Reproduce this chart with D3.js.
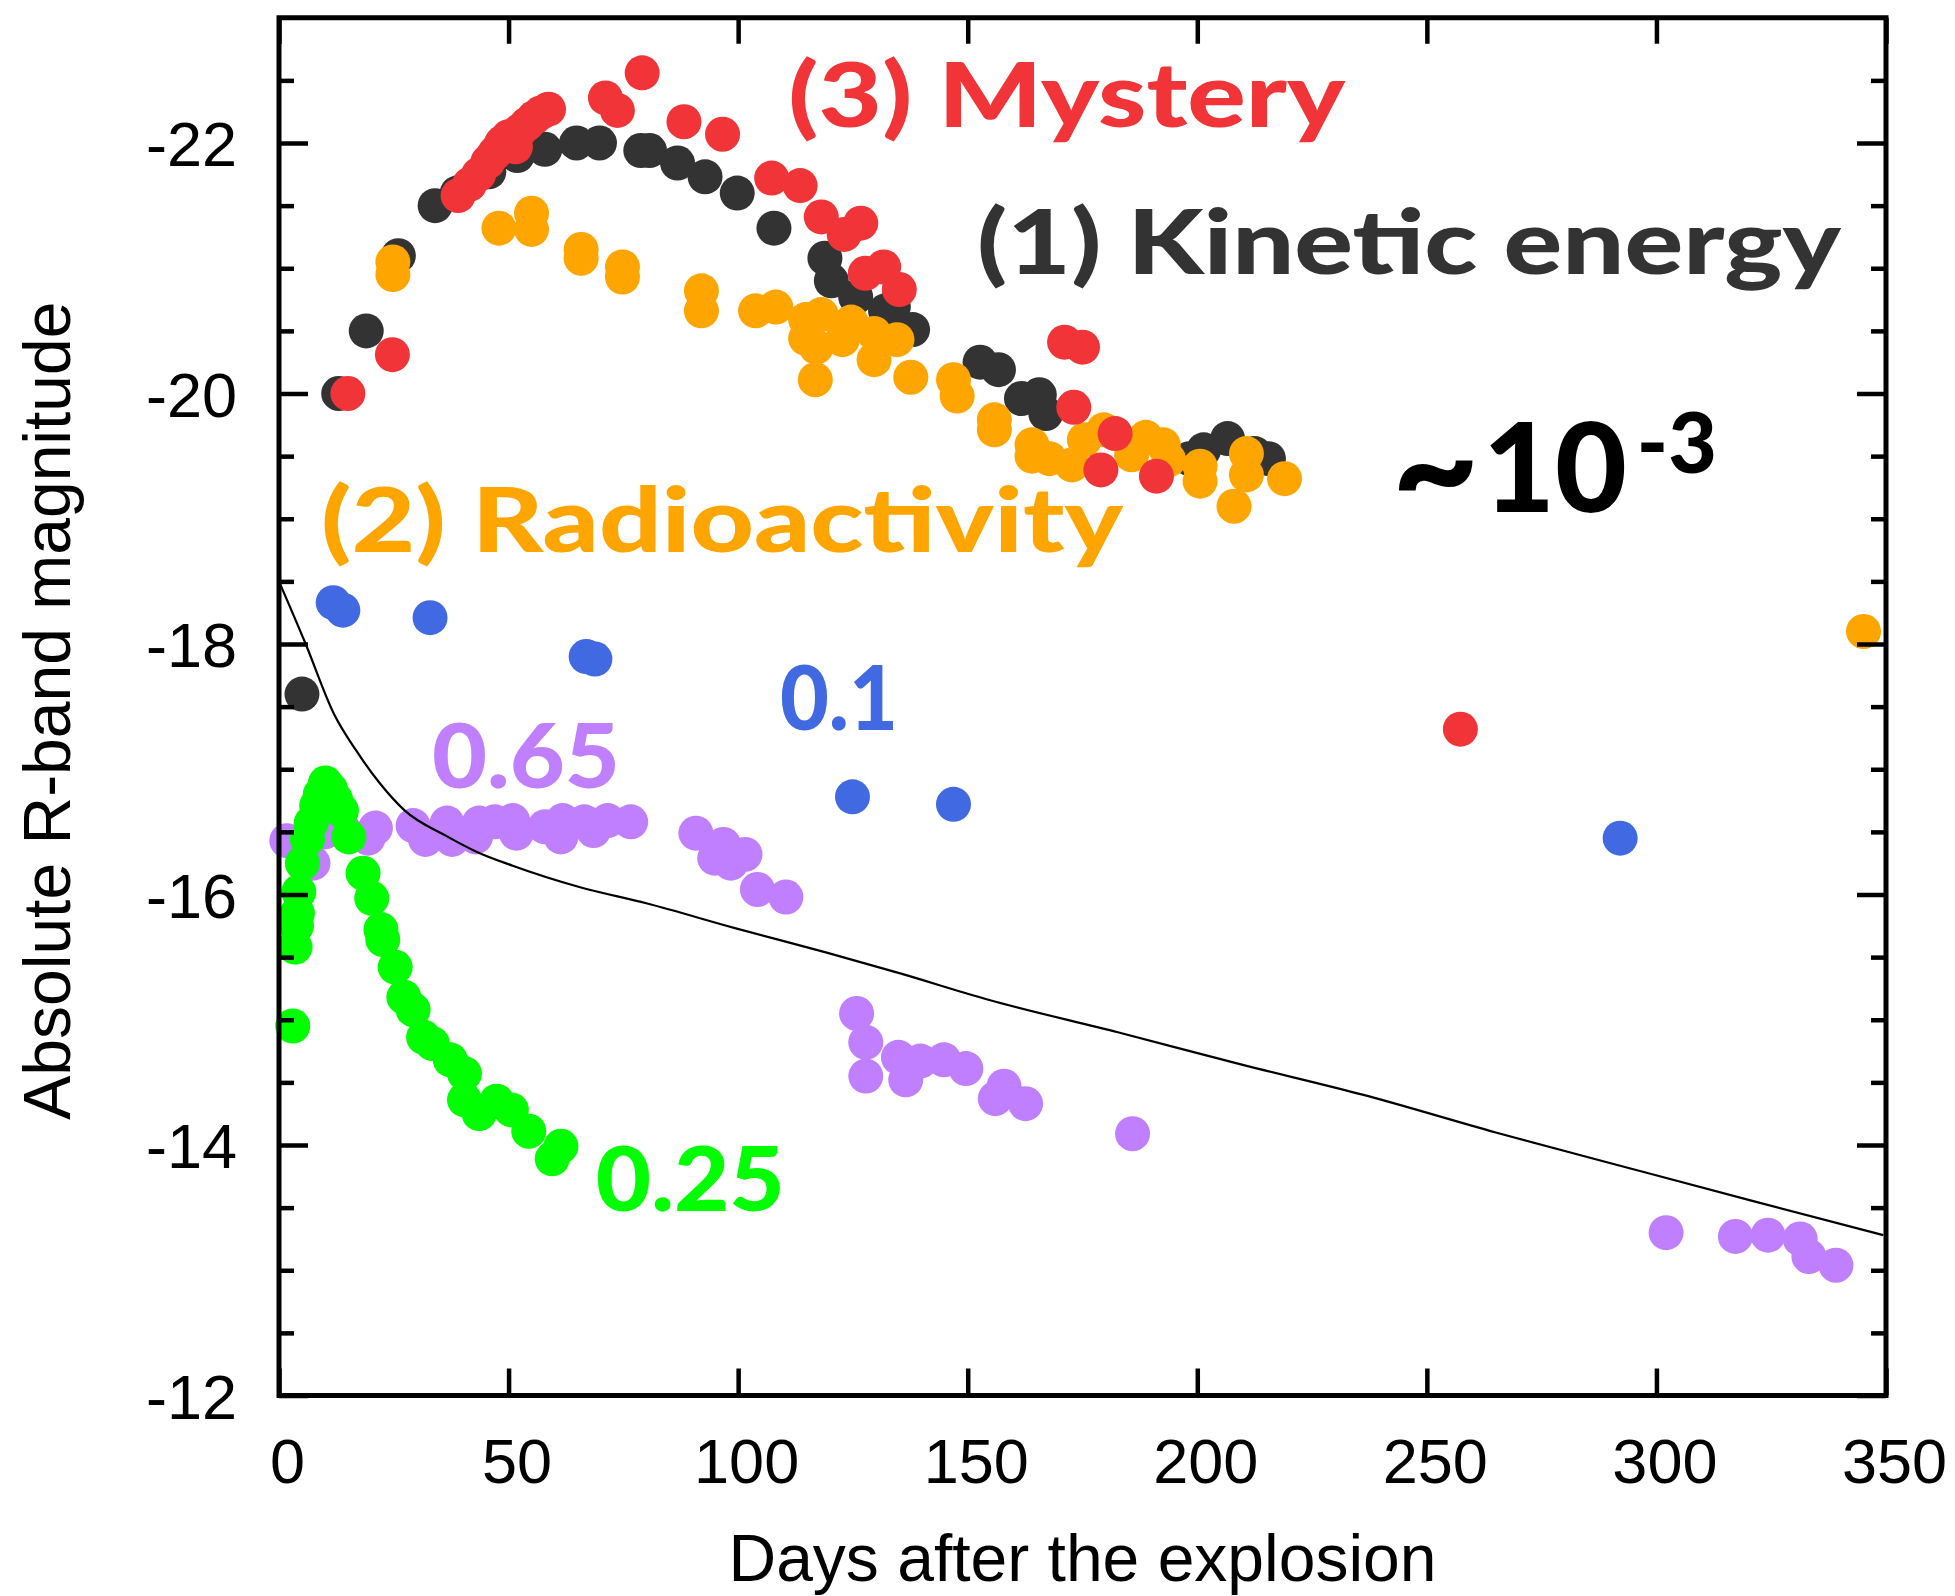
<!DOCTYPE html>
<html>
<head>
<meta charset="utf-8">
<script src="https://cdn.jsdelivr.net/npm/d3@7/dist/d3.min.js"></script>
<style>
  html, body { margin: 0; padding: 0; background: #fff; }
  svg { display: block; }
</style>
</head>
<body>
<div id="chart"></div>
<script>
// Each point: [days after the explosion, absolute R-band magnitude]
const kineticPoints = [
  [5, -17.6], [13, -20.0], [19, -20.5], [26, -21.1], [34, -21.5], [38.8, -21.6],
  [45.7, -21.77], [51.9, -21.9], [57.9, -21.95], [64.8, -22.0], [69.8, -22.0],
  [78.8, -21.94], [80.7, -21.94], [86.8, -21.84], [92.8, -21.73], [99.8, -21.6],
  [107.8, -21.32], [118.9, -21.08], [120.3, -20.9], [125.6, -20.77], [132.1, -20.66],
  [133.8, -20.69], [138.0, -20.51], [152.7, -20.25], [156.7, -20.19], [161.7, -19.96],
  [165.6, -19.99], [167.0, -19.84], [198.3, -19.48], [201.4, -19.55], [206.6, -19.64],
  [212.5, -19.52], [215.5, -19.48]
];

const mysteryPoints = [
  [15, -20.0], [24.7, -20.31], [39.0, -21.58], [41.5, -21.67], [43.5, -21.75],
  [45.5, -21.85], [47.0, -21.92], [48.5, -22.0], [50.0, -22.05], [51.5, -21.97],
  [52.5, -22.1], [54.0, -22.15], [55.5, -22.2], [57.0, -22.24], [58.7, -22.27],
  [71.1, -22.36], [73.7, -22.26], [79.1, -22.56], [88.2, -22.17], [96.6, -22.07],
  [107.3, -21.72], [113.5, -21.66], [118.1, -21.41], [123.1, -21.27], [126.7, -21.36],
  [127.7, -20.96], [131.7, -21.01], [135.1, -20.83], [171.1, -20.41], [175.0, -20.37],
  [173.1, -19.89], [182.1, -19.68], [179.0, -19.39], [191.1, -19.34], [257.3, -17.32]
];

const radioPoints = [
  [24.8, -21.05], [24.8, -20.95], [47.9, -21.32], [55.0, -21.44], [55.0, -21.31],
  [65.8, -21.15], [65.8, -21.08], [74.8, -21.01], [74.8, -20.93], [92.0, -20.82],
  [92.0, -20.66], [103.8, -20.66], [108.2, -20.69], [114.7, -20.59], [118.1, -20.63],
  [114.7, -20.44], [117.0, -20.37], [116.8, -20.11], [122.7, -20.43], [124.6, -20.57],
  [129.6, -20.48], [129.6, -20.27], [134.6, -20.43], [137.6, -20.13], [146.9, -20.11],
  [147.7, -19.98], [155.8, -19.79], [155.8, -19.71], [164.0, -19.59], [164.0, -19.5],
  [167.8, -19.48], [172.7, -19.43], [175.4, -19.63], [179.6, -19.71], [185.7, -19.51],
  [188.8, -19.65], [192.6, -19.59], [193.8, -19.47], [200.6, -19.42], [200.6, -19.3],
  [208.0, -19.1], [210.7, -19.52], [210.7, -19.35], [219.0, -19.32], [345.1, -18.1]
];

const bluePoints = [
  [11.8, -18.33], [13.9, -18.27], [32.9, -18.21], [66.9, -17.9], [68.8, -17.88],
  [124.9, -16.78], [146.9, -16.72], [292.1, -16.45]
];

const purplePoints = [
  [1.7, -16.43], [7.4, -16.25], [10.0, -16.5], [14.0, -16.52], [19.4, -16.45],
  [21.0, -16.53], [29.2, -16.55], [31.9, -16.44], [36.6, -16.57], [37.7, -16.44],
  [42.8, -16.46], [43.6, -16.57], [47.0, -16.58], [50.9, -16.59], [51.7, -16.49],
  [57.9, -16.54], [61.8, -16.59], [61.4, -16.46], [66.5, -16.58], [68.5, -16.51],
  [71.6, -16.59], [76.6, -16.58], [90.8, -16.49], [96.8, -16.4], [94.9, -16.29],
  [98.4, -16.25], [101.5, -16.32], [104.2, -16.04], [110.4, -15.98],
  [125.8, -15.05], [127.8, -14.82], [127.8, -14.55], [134.9, -14.7], [136.5, -14.52],
  [139.7, -14.67], [144.8, -14.68], [149.6, -14.61], [156.0, -14.37], [157.9, -14.47],
  [162.6, -14.33], [185.9, -14.09],
  [302.1, -13.3], [317.2, -13.27], [324.3, -13.28], [331.3, -13.25], [333.2, -13.11],
  [339.1, -13.04]
];

const greenPoints = [
  [3.0, -14.95], [3.5, -15.58], [3.8, -15.75], [4.0, -15.85], [4.3, -16.02],
  [5.1, -16.25], [6.2, -16.44], [7.0, -16.57], [8.2, -16.71], [9.0, -16.8],
  [10.1, -16.89], [11.2, -16.84], [12.3, -16.76], [13.6, -16.67], [15.2, -16.46],
  [18.3, -16.17], [20.2, -15.97], [22.2, -15.72], [22.6, -15.64], [25.3, -15.42],
  [27.2, -15.18], [29.2, -15.08], [31.5, -14.86], [33.4, -14.81], [37.3, -14.68],
  [40.4, -14.57], [40.4, -14.36], [43.6, -14.25], [47.4, -14.35], [50.6, -14.28],
  [54.4, -14.11], [59.5, -13.89], [61.4, -13.99]
];

// thin black model curve
const modelCurve = [
  [0, -18.5], [5.7, -18.01], [12, -17.44], [16.8, -17.15], [21.7, -16.9],
  [27.4, -16.67], [36.3, -16.47], [43.1, -16.34], [50.9, -16.23], [65.4, -16.06],
  [80, -15.93], [99.5, -15.73], [118.9, -15.54], [135.3, -15.37], [154.5, -15.16],
  [182.7, -14.9], [209.9, -14.64], [236.2, -14.4], [265, -14.1], [299.7, -13.76],
  [321.3, -13.55], [349.4, -13.28]
];

const xTicks = [0, 50, 100, 150, 200, 250, 300, 350];
const yTicks = [-22, -20, -18, -16, -14, -12];
const yMinorTicks = [-22.5, -21.5, -21, -20.5, -19.5, -19, -18.5, -17.5, -17, -16.5,
  -15.5, -15, -14.5, -13.5, -13, -12.5];

const width = 1955, height = 1596;
const plotL = 279, plotR = 1886, plotT = 17.75, plotB = 1395.5;
const dotR = 17.5;
const annoFont = "Lato, 'Open Sans', sans-serif";
const axisFont = "'Liberation Sans', Arial, Helvetica, sans-serif";

const svg = d3.select('#chart').append('svg')
  .attr('width', width)
  .attr('height', height)
  .style('background', '#fff');

const x = d3.scaleLinear().domain([0, 350]).range([plotL, plotR]);
const y = d3.scaleLinear().domain([-12, -23]).range([plotB, plotT]);

// series, drawn back to front
const series = [
  { pts: kineticPoints, color: '#333333' },
  { pts: radioPoints, color: '#FFA500' },
  { pts: mysteryPoints, color: '#F03437' },
  { pts: bluePoints, color: '#4169E1' },
  { pts: purplePoints, color: '#BF7FFF' },
  { pts: greenPoints, color: '#00FF00' }
];

series.forEach(s => {
  svg.append('g')
    .selectAll('circle')
    .data(s.pts)
    .enter()
    .append('circle')
    .attr('cx', d => x(d[0]))
    .attr('cy', d => y(d[1]))
    .attr('r', dotR)
    .attr('fill', s.color);
});

svg.append('path')
  .datum(modelCurve)
  .attr('fill', 'none')
  .attr('stroke', '#000')
  .attr('stroke-width', 2.2)
  .attr('d', d3.line().x(d => x(d[0])).y(d => y(d[1])).curve(d3.curveMonotoneX));

// axes (ticks point inward)
function styleAxis(g) {
  g.select('.domain').remove();
  g.selectAll('.tick line').attr('stroke', '#000').attr('stroke-width', 4.5);
  g.selectAll('text')
    .attr('fill', '#000')
    .attr('font-family', axisFont)
    .attr('font-size', 63);
}

svg.append('g')
  .attr('transform', `translate(0,${plotB})`)
  .call(d3.axisBottom(x).tickValues(xTicks).tickSize(-27).tickPadding(43).tickFormat(d => String(d)))
  .call(styleAxis)
  .call(g => g.selectAll('text').attr('dx', 8));

svg.append('g')
  .attr('transform', `translate(0,${plotT})`)
  .call(d3.axisTop(x).tickValues(xTicks).tickSize(-26).tickFormat(''))
  .call(styleAxis);

svg.append('g')
  .attr('transform', `translate(${plotL},0)`)
  .call(d3.axisLeft(y).tickValues(yTicks).tickSize(-29).tickPadding(42).tickFormat(d => String(d)))
  .call(styleAxis)
  .call(g => g.selectAll('text').attr('dy', '0.36em'));

svg.append('g')
  .attr('transform', `translate(${plotL},0)`)
  .call(d3.axisLeft(y).tickValues(yMinorTicks).tickSize(-15).tickFormat(''))
  .call(styleAxis);

svg.append('g')
  .attr('transform', `translate(${plotR},0)`)
  .call(d3.axisRight(y).tickValues(yTicks).tickSize(-29).tickFormat(''))
  .call(styleAxis);

svg.append('g')
  .attr('transform', `translate(${plotR},0)`)
  .call(d3.axisRight(y).tickValues(yMinorTicks).tickSize(-15).tickFormat(''))
  .call(styleAxis);

// frame
svg.append('rect')
  .attr('x', plotL)
  .attr('y', plotT)
  .attr('width', plotR - plotL)
  .attr('height', plotB - plotT)
  .attr('fill', 'none')
  .attr('stroke', '#000')
  .attr('stroke-width', 5);

// axis titles
svg.append('text')
  .attr('x', (plotL + plotR) / 2)
  .attr('y', 1581)
  .attr('text-anchor', 'middle')
  .attr('font-family', axisFont)
  .attr('font-size', 66)
  .attr('fill', '#000')
  .text('Days after the explosion');

svg.append('text')
  .attr('transform', `translate(70,${(plotT + plotB) / 2 + 4}) rotate(-90)`)
  .attr('text-anchor', 'middle')
  .attr('font-family', axisFont)
  .attr('font-size', 66)
  .attr('fill', '#000')
  .text('Absolute R-band magnitude');

// annotations, anchored in data space; span = rendered width in px
const annotations = [
  { text: '(3) Mystery', day: 110.9, mag: -22.124, color: '#F03437', span: 557 },
  { text: '(1) Kinetic energy', day: 152.0, mag: -20.954, color: '#333333', span: 864 },
  { text: '(2) Radioactivity', day: 9.15, mag: -18.735, color: '#FFA500', span: 802 },
  { text: '0.1', day: 109.1, mag: -17.313, color: '#4169E1', span: 118 },
  { text: '0.65', day: 33.3, mag: -16.854, color: '#BF7FFF', span: 188 },
  { text: '0.25', day: 69.0, mag: -13.473, color: '#00FF00', span: 189 }
];

svg.append('g')
  .selectAll('text')
  .data(annotations)
  .enter()
  .append('text')
  .attr('x', d => x(d.day))
  .attr('y', d => y(d.mag))
  .attr('font-family', annoFont)
  .attr('font-weight', 900)
  .attr('font-size', 90)
  .attr('fill', d => d.color)
  .attr('textLength', d => d.span)
  .attr('lengthAdjust', 'spacingAndGlyphs')
  .text(d => d.text);

const ratio = svg.append('text')
  .attr('x', x(242.4))
  .attr('y', y(-19.05))
  .attr('font-family', annoFont)
  .attr('font-weight', 900)
  .attr('fill', '#000');
ratio.append('tspan').attr('font-size', 150).attr('dy', 8).text('~');
ratio.append('tspan').attr('font-size', 124).attr('dy', -8).attr('dx', 4).text('10');
ratio.append('tspan')
  .attr('dy', -39.5)
  .attr('dx', 10)
  .attr('font-size', 84)
  .text('-3');
</script>
</body>
</html>
